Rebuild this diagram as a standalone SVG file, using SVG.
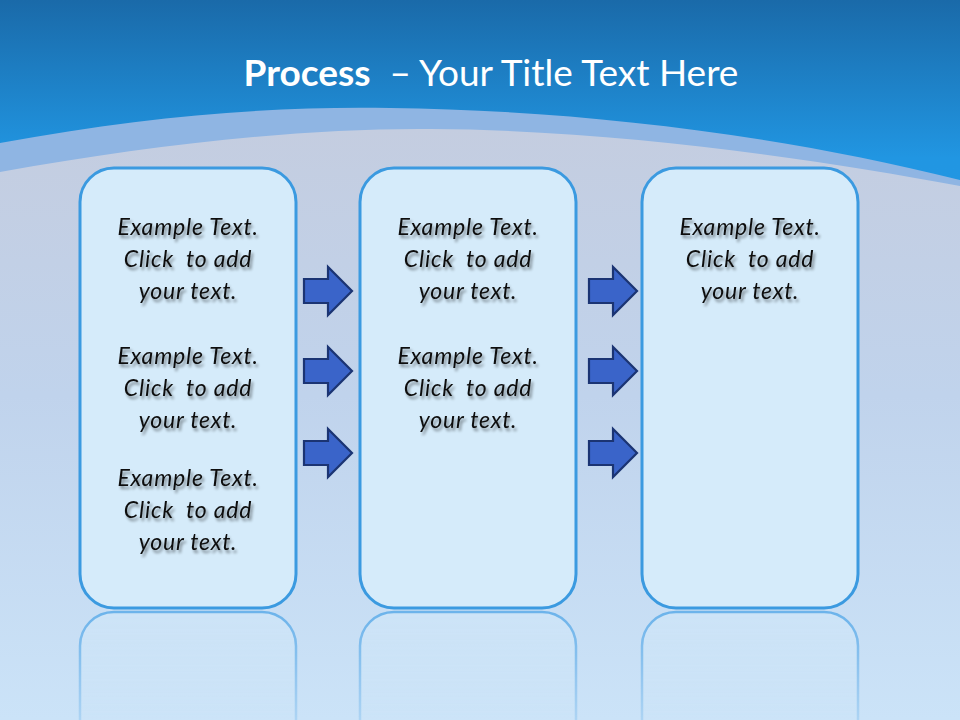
<svg xmlns="http://www.w3.org/2000/svg" width="960" height="720" viewBox="0 0 960 720">
<defs>
<linearGradient id="sky" x1="0" y1="0" x2="0" y2="1">
<stop offset="0" stop-color="#1a6aa9"/>
<stop offset="0.22" stop-color="#2196e2"/>
<stop offset="1" stop-color="#2299e6"/>
</linearGradient>
<linearGradient id="low" x1="0" y1="0" x2="0" y2="1">
<stop offset="0" stop-color="#c4cde0"/>
<stop offset="0.45" stop-color="#c0d3ec"/>
<stop offset="1" stop-color="#cbe3f8"/>
</linearGradient>
<linearGradient id="refl" x1="0" y1="0" x2="0" y2="1">
<stop offset="0" stop-color="#ffffff" stop-opacity="1"/>
<stop offset="1" stop-color="#ffffff" stop-opacity="0.3"/>
</linearGradient>
<mask id="rmask"><rect x="0" y="608" width="960" height="112" fill="url(#refl)"/></mask>
<filter id="sh" x="-20%" y="-20%" width="140%" height="160%">
<feGaussianBlur in="SourceAlpha" stdDeviation="1.6"/>
<feOffset dx="2" dy="3" result="b"/>
<feComponentTransfer in="b" result="c"><feFuncA type="linear" slope="0.45"/></feComponentTransfer>
<feMerge><feMergeNode in="c"/><feMergeNode in="SourceGraphic"/></feMerge>
</filter>
<path id="arr" d="M0,-12 H24 V-24 L48,0 L24,24 V12 H0 Z"/>
</defs>
<style>
.box{fill:#d5ebfa;stroke:#3b9ae0;stroke-width:3}
.rbox{fill:#d2e9fa;fill-opacity:0.55;stroke:#6ab2ea;stroke-width:2.5}
.t{font-family:Lato,"Open Sans",sans-serif;font-style:italic;font-size:23px;letter-spacing:0.8px;fill:#111;text-anchor:middle;white-space:pre}
.a{fill:#3a64c9;stroke:#1b3473;stroke-width:2.2;stroke-linejoin:miter}
</style>
<rect width="960" height="720" fill="url(#sky)"/>
<path d="M0,143 C150,115 280,106 390,108 C560,110 760,130 960,180 V720 H0 Z" fill="#8fb5e3"/>
<path d="M0,172 C150,145 300,128 430,129 C620,130 820,160 960,186 V720 H0 Z" fill="url(#low)"/>
<text x="491" y="86" text-anchor="middle" font-family="Lato,'Open Sans',sans-serif" font-size="37" fill="#ffffff" style="white-space:pre"><tspan font-weight="bold">Process</tspan><tspan>  – Your Title Text Here</tspan></text>
<g id="reflections" mask="url(#rmask)">
<rect class="rbox" x="80" y="612" width="216" height="440" rx="34"/>
<rect class="rbox" x="360" y="612" width="216" height="440" rx="34"/>
<rect class="rbox" x="642" y="612" width="216" height="440" rx="34"/>
</g>
<g id="node1">
<rect class="box" x="80" y="168" width="216" height="440" rx="34"/>
<g filter="url(#sh)">
<text class="t" x="188" y="235">Example Text.</text>
<text class="t" x="188" y="267">Click  to add</text>
<text class="t" x="188" y="299">your text.</text>
<text class="t" x="188" y="364">Example Text.</text>
<text class="t" x="188" y="396">Click  to add</text>
<text class="t" x="188" y="428">your text.</text>
<text class="t" x="188" y="486">Example Text.</text>
<text class="t" x="188" y="518">Click  to add</text>
<text class="t" x="188" y="550">your text.</text>
</g>
</g>
<g id="node2">
<rect class="box" x="360" y="168" width="216" height="440" rx="34"/>
<g filter="url(#sh)">
<text class="t" x="468" y="235">Example Text.</text>
<text class="t" x="468" y="267">Click  to add</text>
<text class="t" x="468" y="299">your text.</text>
<text class="t" x="468" y="364">Example Text.</text>
<text class="t" x="468" y="396">Click  to add</text>
<text class="t" x="468" y="428">your text.</text>
</g>
</g>
<g id="node3">
<rect class="box" x="642" y="168" width="216" height="440" rx="34"/>
<g filter="url(#sh)">
<text class="t" x="750" y="235">Example Text.</text>
<text class="t" x="750" y="267">Click  to add</text>
<text class="t" x="750" y="299">your text.</text>
</g>
</g>
<g id="connectors">
<use href="#arr" class="a" transform="translate(304,291)"/>
<use href="#arr" class="a" transform="translate(304,371)"/>
<use href="#arr" class="a" transform="translate(304,453)"/>
<use href="#arr" class="a" transform="translate(589,291)"/>
<use href="#arr" class="a" transform="translate(589,371)"/>
<use href="#arr" class="a" transform="translate(589,453)"/>
</g>
</svg>
